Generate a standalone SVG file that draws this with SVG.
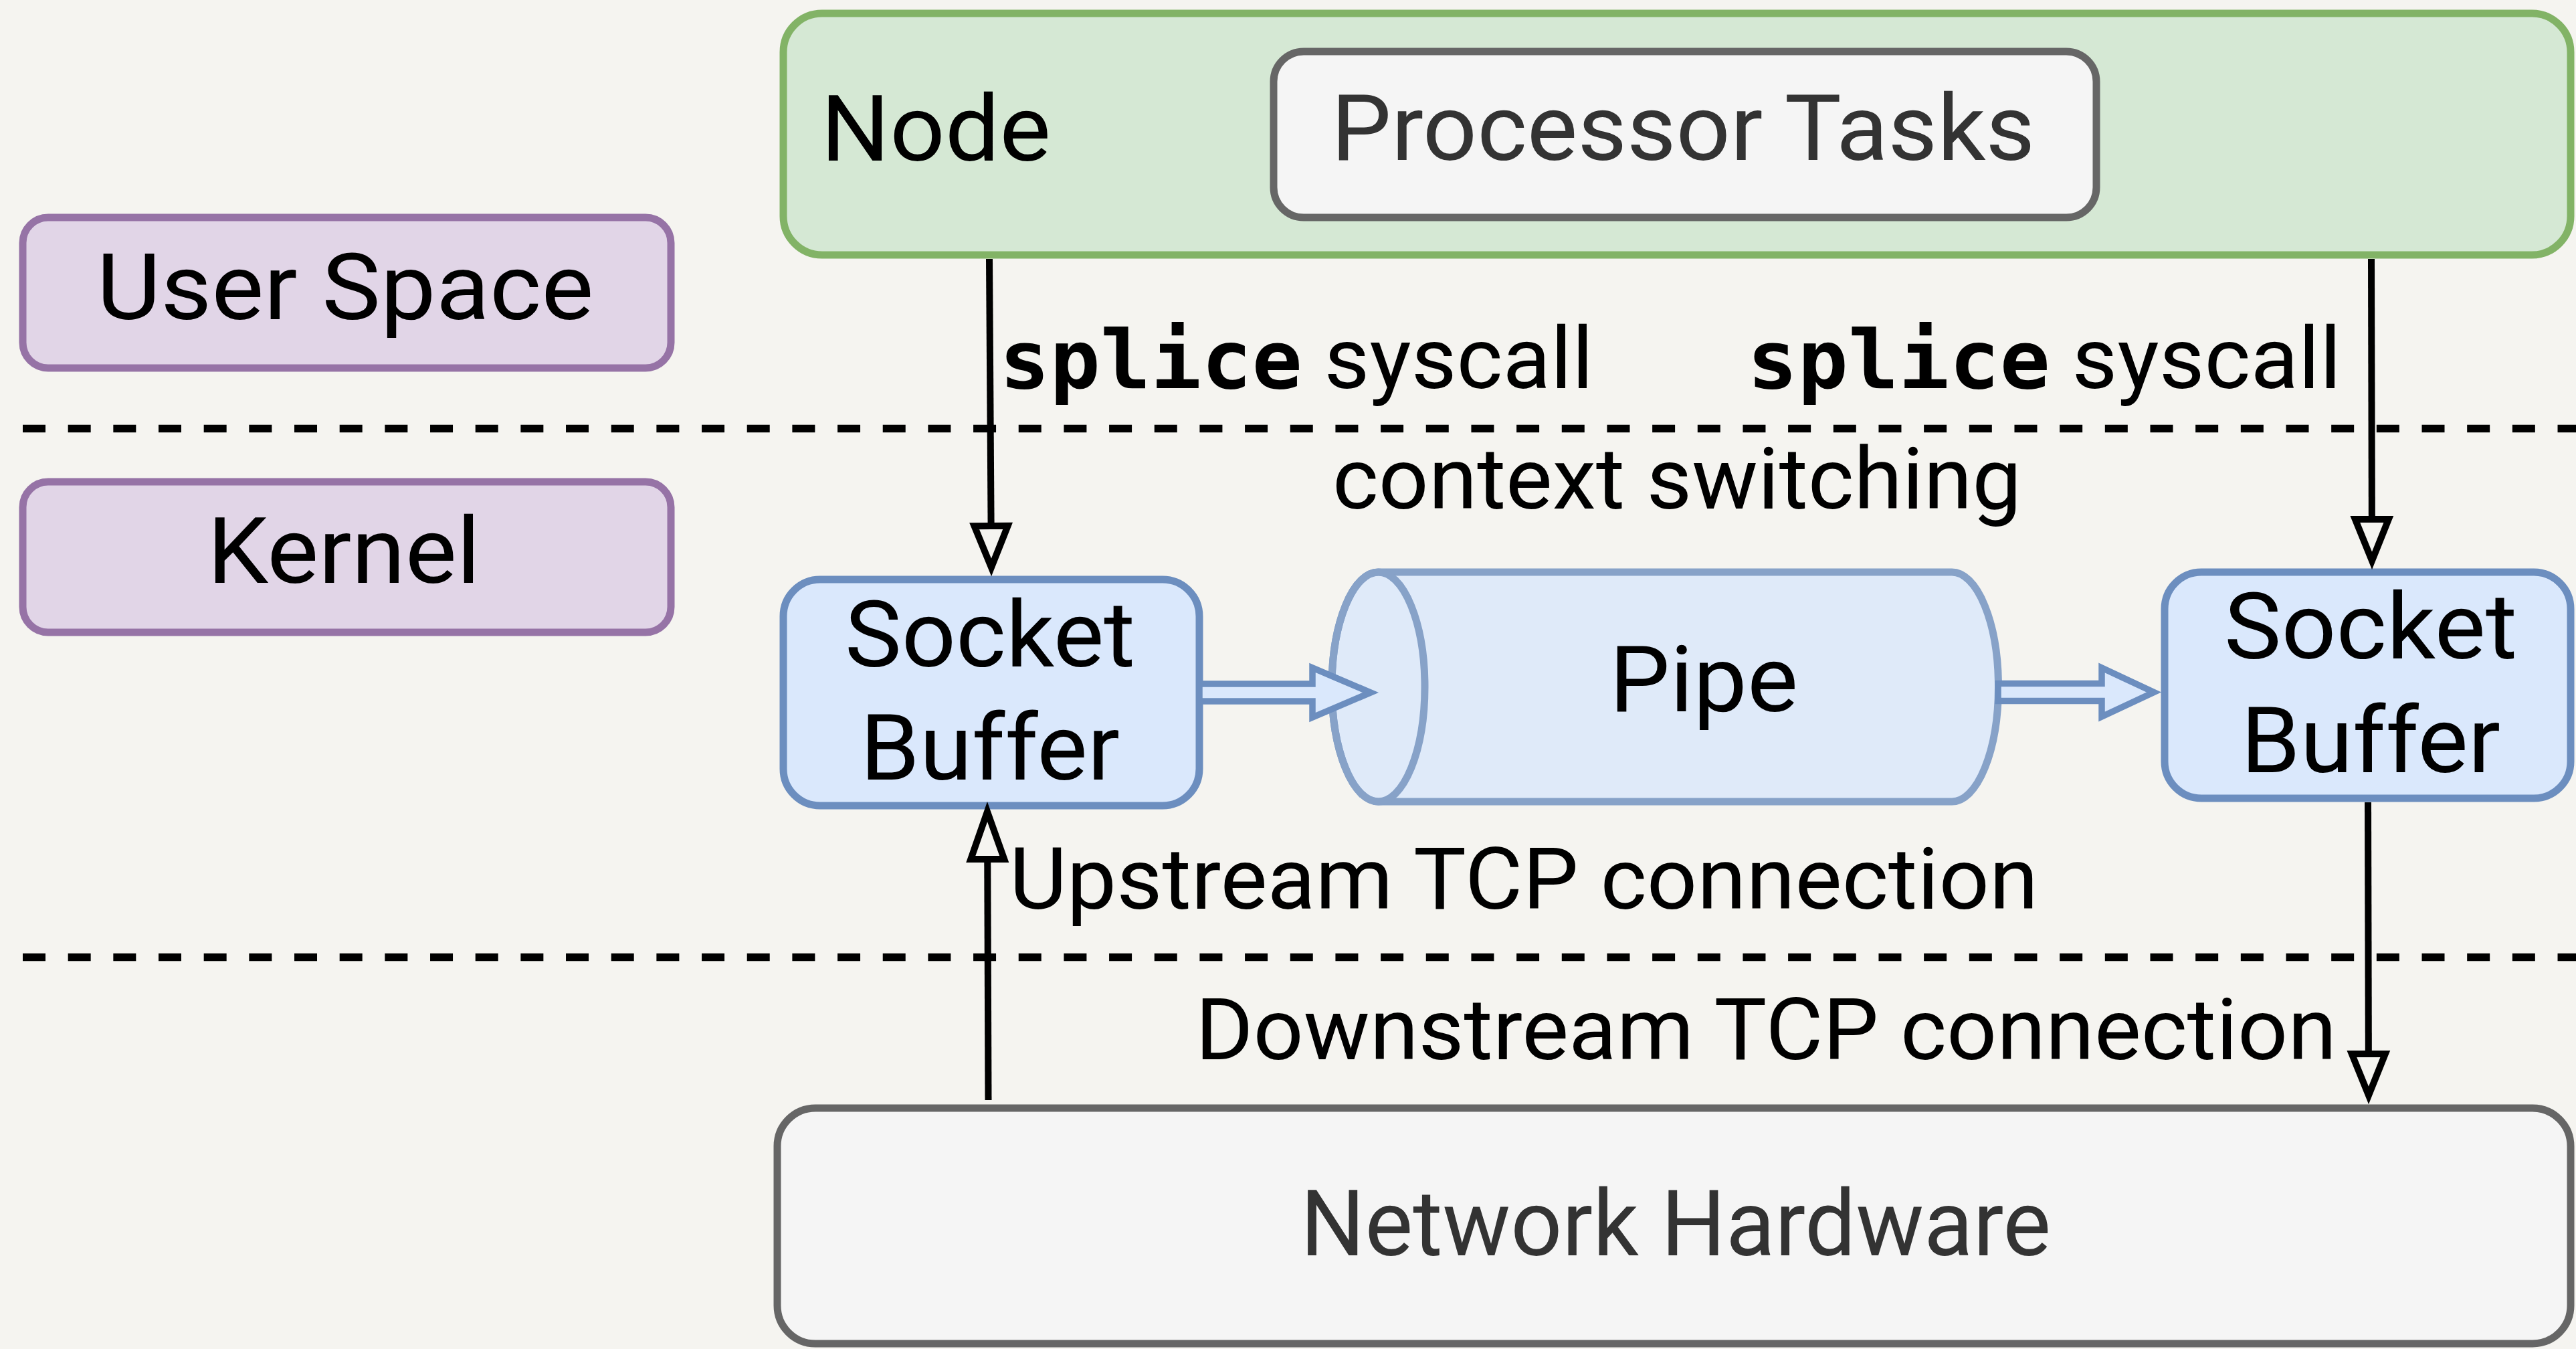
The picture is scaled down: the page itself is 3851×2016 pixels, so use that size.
<svg xmlns="http://www.w3.org/2000/svg" width="3851" height="2016" viewBox="0 0 3851 2016">
<style>
.t{font-family:Roboto,"Liberation Sans",Arial,sans-serif;font-size:138px;fill:#000;text-anchor:middle}
.lbl{font-family:Roboto,"Liberation Sans",Arial,sans-serif;font-size:128px;fill:#000;text-anchor:middle}
.mono{font-family:"DejaVu Sans Mono","Liberation Mono",monospace;font-weight:bold;font-size:122px}
.gray{fill:#f5f5f5;stroke:#666666;stroke-width:11}
.purple{fill:#e1d5e7;stroke:#9673a6;stroke-width:11}
.blue{fill:#dae8fc;stroke:#6c8ebf;stroke-width:11}
.green{fill:#d5e8d4;stroke:#82b366;stroke-width:11}
.edge{fill:none;stroke:#000;stroke-width:10}
.flex{fill:#dae8fc;stroke:#6c8ebf;stroke-width:9.5;stroke-miterlimit:10}
.sep{fill:none;stroke:#000;stroke-width:11.5;stroke-dasharray:34 33.67}
</style>
<defs>
<marker id="open" markerUnits="userSpaceOnUse" refX="0" refY="0" markerWidth="10" markerHeight="10" orient="auto" overflow="visible">
<path d="M-62,-25 L0,0 L-62,25 Z" fill="#f5f4f0" stroke="#000" stroke-width="10" stroke-miterlimit="10"/>
</marker>
<marker id="openL" markerUnits="userSpaceOnUse" refX="0" refY="0" markerWidth="10" markerHeight="10" orient="auto" overflow="visible">
<path d="M-71,-25 L0,0 L-71,25 Z" fill="#f5f4f0" stroke="#000" stroke-width="10" stroke-miterlimit="10"/>
</marker>
</defs>
<rect x="0" y="0" width="3851" height="2016" fill="#f5f4f0"/>

<g id="separators">
<line class="sep" x1="34" y1="640.5" x2="3851" y2="640.5"/>
<line class="sep" x1="34" y1="1430.5" x2="3851" y2="1430.5"/>
</g>

<g id="node-user-space">
<rect class="purple" x="34" y="325" width="969" height="225" rx="38"/>
<text class="t" x="516" y="477" textLength="743" lengthAdjust="spacingAndGlyphs">User Space</text>
</g>
<g id="node-kernel">
<rect class="purple" x="34" y="720" width="969" height="225" rx="38"/>
<text class="t" x="514" y="871" textLength="408" lengthAdjust="spacingAndGlyphs">Kernel</text>
</g>
<g id="node-node">
<rect class="green" x="1171" y="20" width="2672" height="361" rx="58"/>
<text class="t" x="1227" y="240" style="text-anchor:start" textLength="344" lengthAdjust="spacingAndGlyphs">Node</text>
</g>
<g id="node-processor-tasks">
<rect class="gray" x="1904" y="77" width="1230" height="248" rx="45"/>
<text class="t" x="2516" y="239" style="fill:#333333" textLength="1052" lengthAdjust="spacingAndGlyphs">Processor Tasks</text>
</g>
<g id="node-socket-buffer-1">
<rect class="blue" x="1171" y="866" width="622" height="338" rx="55"/>
<text class="t" x="1480" y="996" textLength="434" lengthAdjust="spacingAndGlyphs">Socket</text>
<text class="t" x="1480" y="1165" textLength="388" lengthAdjust="spacingAndGlyphs">Buffer</text>
</g>
<g id="node-pipe" opacity="0.8">
<path d="M2060.5,855 L2918,855 A69.5,171.5 0 0 1 2918,1198 L2060.5,1198 A69.5,171.5 0 0 1 2060.5,855 Z" fill="#dae8fc" stroke="#6c8ebf" stroke-width="11"/>
<ellipse cx="2060.5" cy="1026.5" rx="69.5" ry="171.5" fill="none" stroke="#6c8ebf" stroke-width="11"/>
</g>
<g id="node-pipe-label">
<text class="t" x="2547" y="1063" textLength="282" lengthAdjust="spacingAndGlyphs">Pipe</text>
</g>
<g id="node-socket-buffer-2">
<rect class="blue" x="3236" y="855" width="607" height="338" rx="55"/>
<text class="t" x="3544" y="984" textLength="438" lengthAdjust="spacingAndGlyphs">Socket</text>
<text class="t" x="3544" y="1154" textLength="388" lengthAdjust="spacingAndGlyphs">Buffer</text>
</g>
<g id="node-network-hardware">
<rect class="gray" x="1162" y="1656" width="2681" height="352" rx="57"/>
<text class="t" x="2505" y="1876" style="fill:#333333" textLength="1122" lengthAdjust="spacingAndGlyphs">Network Hardware</text>
</g>

<g id="connectors">
<path class="edge" d="M1479,387 L1482,848" marker-end="url(#open)"/>
<path class="edge" d="M3545,387 L3546,838" marker-end="url(#open)"/>
<path class="edge" d="M1477.5,1644 L1476,1213" marker-end="url(#openL)"/>
<path class="edge" d="M3540,1199 L3541,1637" marker-end="url(#open)"/>
<polygon class="flex" points="1793,1022 1962,1022 1962,998 2049,1035 1962,1072 1962,1048 1793,1048"/>
<polygon class="flex" points="2987,1021.5 3142,1021.5 3142,998 3220,1034.5 3142,1071 3142,1047.5 2987,1047.5"/>
<text class="lbl" x="1938" y="580" textLength="888" lengthAdjust="spacingAndGlyphs"><tspan class="mono">splice</tspan> syscall</text>
<text class="lbl" x="3056" y="580" textLength="888" lengthAdjust="spacingAndGlyphs"><tspan class="mono">splice</tspan> syscall</text>
<text class="lbl" x="2507" y="760" textLength="1030" lengthAdjust="spacingAndGlyphs">context switching</text>
<text class="lbl" x="2278" y="1358" textLength="1538" lengthAdjust="spacingAndGlyphs">Upstream TCP connection</text>
<text class="lbl" x="2640" y="1583" textLength="1706" lengthAdjust="spacingAndGlyphs">Downstream TCP connection</text>
</g>
</svg>
